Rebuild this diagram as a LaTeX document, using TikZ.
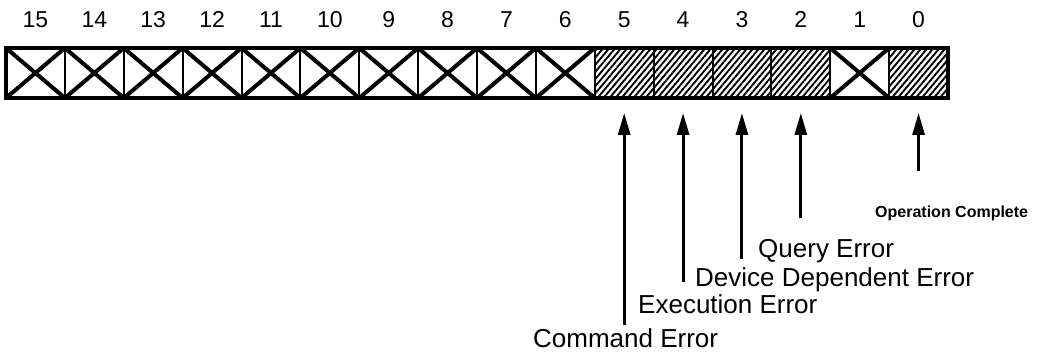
\documentclass[tikz,border=0pt]{standalone}
\usepackage{fontspec}
\setmainfont{Liberation Sans}
\usetikzlibrary{patterns.meta,arrows.meta}

\tikzset{
  cellbox/.style={draw, line width=2pt, minimum width=58.875pt, minimum height=50pt,
                  inner sep=0pt, outer sep=0pt, anchor=north west},
  unused/.style={line width=4pt, line cap=butt},
  hatched/.style={pattern={Lines[angle=50, distance=4.6pt, line width=1.9pt]}},
  frame/.style={line width=3.5pt},
  bitnum/.style={font=\fontsize{23}{23}\selectfont, inner sep=0pt, anchor=base},
  errlabel/.style={font=\fontsize{26}{26}\selectfont, inner sep=0pt, anchor=base west},
  smalllabel/.style={font=\bfseries\fontsize{16}{16}\selectfont, inner sep=0pt, anchor=base west},
  sig/.style={line width=3pt, -{Triangle[length=22pt, width=12pt]}}
}

\begin{document}
\begin{tikzpicture}[x=1pt, y=-1pt]
  \useasboundingbox (0,0) rectangle (1042,352);

  % sixteen register cells, bit 15 on the left
  \foreach \b in {0,...,15} {
    \pgfmathsetmacro\xl{6+(15-\b)*58.875}
    \node[cellbox] (c\b) at (\xl,48) {};
    \node[bitnum] (n\b) at (c\b.center |- 0,28) {\b};
  }

  % hatched bits that are in use
  \foreach \b in {5,4,3,2,0} {
    \fill[hatched] (c\b.north west) rectangle (c\b.south east);
    \draw[line width=2pt] (c\b.north west) rectangle (c\b.south east);
  }

  % crossed-out bits that are not used
  \foreach \b in {15,14,...,6,1} {
    \draw[unused] (c\b.north west) -- (c\b.south east)
                  (c\b.north east) -- (c\b.south west);
  }

  % heavy outline of the whole register
  \draw[frame] (c15.north west) rectangle (c0.south east);

  % event names
  \node[errlabel]   (lcmd)   at (533,348) {Command Error};
  \node[errlabel]   (lexe)   at (638,314) {Execution Error};
  \node[errlabel]   (ldev)   at (695,287) {Device Dependent Error};
  \node[errlabel]   (lqry)   at (758,258) {Query Error};
  \node[smalllabel] (lop)    at (875,218) {Operation Complete};

  % arrows from each event to its bit
  \draw[sig, shorten <=4pt]  (lcmd.north -| c5) -- ([yshift=-15pt]c5.south);
  \draw[sig, shorten <=13pt] (lexe.north -| c4) -- ([yshift=-15pt]c4.south);
  \draw[sig, shorten <=9pt]  (ldev.north -| c3) -- ([yshift=-15pt]c3.south);
  \draw[sig, shorten <=22pt] (lqry.north -| c2) -- ([yshift=-15pt]c2.south);
  \draw[sig, shorten <=35pt] (lop.north -| c0)  -- ([yshift=-15pt]c0.south);
\end{tikzpicture}
\end{document}
